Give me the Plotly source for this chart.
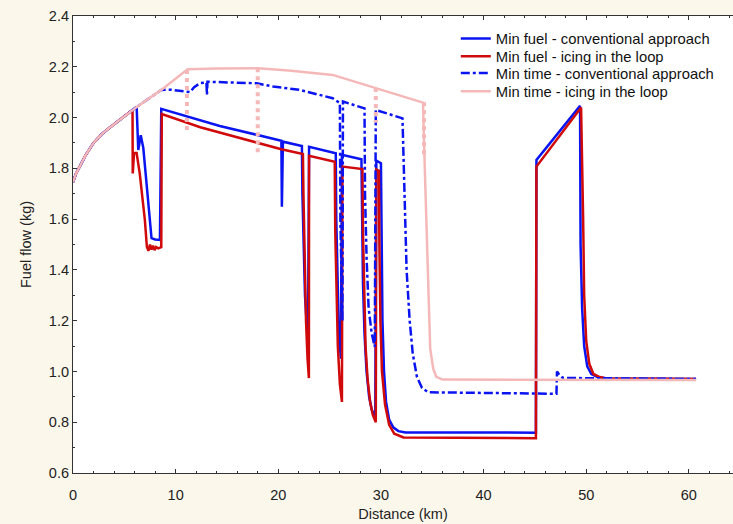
import plotly.graph_objects as go

# ---- data (Distance km, Fuel flow kg) ----
common_x = [0, 0.3, 0.7, 1.2, 2.0, 2.8, 3.5, 4.5, 5.5]
common_y = [1.746, 1.78, 1.81, 1.85, 1.90, 1.935, 1.958, 1.99, 2.02]

mf_conv_x = [6.2, 6.36, 6.6, 6.85, 7.17, 7.5, 7.65, 8.0, 8.47, 8.6, 14.3, 20.3, 20.35, 20.45, 22.3,
             22.35, 22.45, 22.6, 22.75, 22.9, 23.0, 25.6,
             25.65, 25.75, 25.9, 26.1, 26.2, 28.1,
             28.15, 28.25, 28.4, 28.6, 28.85, 29.1, 29.45, 29.55, 30.0,
             30.05, 30.15, 30.3, 30.5, 30.8, 31.2, 31.7, 32.4, 45.1,
             45.15, 49.4, 49.45, 49.6, 49.8, 50.1, 50.5, 51.1, 52.0, 60.7]
mf_conv_y = [2.043, 1.872, 1.93, 1.88, 1.728, 1.565, 1.525, 1.52, 1.518, 2.034, 1.967, 1.909, 1.649, 1.905, 1.888,
             1.7, 1.5, 1.3, 1.2, 1.15, 1.885, 1.859,
             1.6, 1.35, 1.15, 1.05, 1.853, 1.836,
             1.6, 1.35, 1.15, 1.0, 0.9, 0.85, 0.82, 1.83, 1.82,
             1.5, 1.2, 1.0, 0.88, 0.81, 0.78, 0.765, 0.76, 0.759,
             1.833, 2.046, 1.5, 1.25, 1.1, 1.02, 0.99, 0.978, 0.972, 0.97]

mf_ice_x = [5.8, 5.82, 5.95, 6.2, 6.5, 7.0, 7.2, 7.35, 7.5, 7.65, 7.8, 7.95, 8.1, 8.3, 8.6, 8.65,
            12.4, 20.3, 22.4,
            22.45, 22.55, 22.7, 22.85, 22.98, 23.0, 25.5,
            25.55, 25.65, 25.8, 26.0, 26.2, 26.25, 28.2,
            28.25, 28.35, 28.5, 28.7, 28.95, 29.2, 29.5, 29.55, 29.8,
            29.85, 29.95, 30.1, 30.4, 30.8, 31.3, 32.2, 45.1,
            45.15, 49.5, 49.7, 49.8, 50.0, 50.3, 50.7, 51.3, 52.0, 60.7]
mf_ice_y = [2.03, 1.78, 1.86, 1.86, 1.78, 1.597, 1.49, 1.475, 1.50, 1.48, 1.495, 1.478, 1.49, 1.485, 1.49, 2.014,
            1.962, 1.875, 1.856,
            1.7, 1.45, 1.2, 1.05, 0.974, 1.849, 1.826,
            1.55, 1.3, 1.1, 0.95, 0.88, 1.807, 1.797,
            1.55, 1.3, 1.1, 0.97, 0.88, 0.83, 0.80, 1.795, 1.79,
            1.5, 1.2, 1.0, 0.87, 0.79, 0.755, 0.74, 0.737,
            1.807, 2.04, 1.6, 1.3, 1.12, 1.03, 0.99, 0.978, 0.972, 0.97]

mt_conv_x = [6.5, 8.6, 9.5, 11.4, 11.8, 12.4, 13.0, 13.05, 13.1, 15.9, 17.9, 19.5, 22.1, 25.3, 26.0,
             26.05, 26.15, 26.25, 26.3, 28.4,
             28.45, 28.6, 28.8, 29.1, 29.4, 29.5, 32.1,
             32.25, 32.35, 32.5, 32.8, 33.1, 33.5, 34.0, 34.6, 47.1,
             47.15, 47.4, 47.7, 48.7, 60.7]
mt_conv_y = [2.05, 2.109, 2.11, 2.10, 2.12, 2.136, 2.138, 2.09, 2.141, 2.137, 2.135, 2.122, 2.109, 2.076, 2.057,
             1.6, 1.3, 1.2, 2.063, 2.036,
             1.7, 1.45, 1.25, 1.15, 1.097, 2.03, 1.997,
             1.8, 1.6, 1.4, 1.2, 1.07, 0.98, 0.935, 0.918, 0.912,
             1.0, 0.985, 0.975, 0.974, 0.97]

mt_ice_x = [6.5, 8.6, 11.07, 11.2, 14.0, 18.0, 21.0, 25.3, 29.5, 34.1,
            34.2, 34.4, 34.6, 34.8, 35.1, 35.4, 36.0, 60.7]
mt_ice_y = [2.05, 2.109, 2.187, 2.19, 2.193, 2.194, 2.185, 2.168, 2.116, 2.059,
            1.9, 1.6, 1.3, 1.09, 1.01, 0.979, 0.968, 0.966]

# chattering segments of the min-time icing trajectory
chat_x = [11.1, 11.1, None, 18.0, 18.0, None, 29.5, 29.5, None, 34.2, 34.2]
chat_y = [2.187, 1.95, None, 2.194, 1.86, None, 2.116, 1.98, None, 2.06, 1.85]

names = ["Min fuel - conventional approach", "Min fuel - icing in the loop",
         "Min time - conventional approach", "Min time - icing in the loop"]

x_ticks = [0, 10, 20, 30, 40, 50, 60]
y_ticks = [0.6, 0.8, 1.0, 1.2, 1.4, 1.6, 1.8, 2.0, 2.2, 2.4]

BLUE = "#0A14F0"
RED = "#D00A0A"
PINK = "#F5B8B8"
FONT = "Liberation Sans, Arial"
BG = "#FCF7EB"

fig = go.Figure()
series = [
    (common_x + mf_conv_x, common_y + mf_conv_y, dict(color=BLUE, width=2.5)),
    (common_x + mf_ice_x, common_y + mf_ice_y, dict(color=RED, width=2.5)),
    (common_x + mt_conv_x, common_y + mt_conv_y, dict(color=BLUE, width=2.5, dash="dashdot")),
    (common_x + mt_ice_x, common_y + mt_ice_y, dict(color=PINK, width=2.5)),
]
legend_ids = ["legend", "legend2", "legend3", "legend4"]
for (xs, ys, ln), nm, lg in zip(series, names, legend_ids):
    fig.add_trace(go.Scatter(x=xs, y=ys, mode="lines", name=nm, line=ln, legend=lg))
fig.add_trace(go.Scatter(x=chat_x, y=chat_y, mode="lines", showlegend=False,
                         line=dict(color=PINK, width=4, dash="dot")))

axis_common = dict(showline=True, linecolor="#333333", linewidth=1.2, ticks="inside",
                   tickcolor="#333333", showgrid=False, zeroline=False, automargin=False,
                   tickfont=dict(family=FONT, size=14.5, color="#222222"),
                   title_font=dict(family=FONT, size=14.5, color="#222222"))

leg_rows = [0.9497, 0.911, 0.8746, 0.8344]
leg_common = dict(x=0.58, xanchor="left", yanchor="middle", bgcolor="rgba(0,0,0,0)",
                  font=dict(family=FONT, size=14.8, color="#111111"), itemwidth=30)

fig.update_layout(
    width=733, height=524,
    margin=dict(l=73, r=0, t=16, b=51),
    paper_bgcolor=BG, plot_bgcolor="#FFFFFF",
    font=dict(family=FONT, size=14, color="#222222"),
    legend=dict(y=leg_rows[0], **leg_common),
    legend2=dict(y=leg_rows[1], **leg_common),
    legend3=dict(y=leg_rows[2], **leg_common),
    legend4=dict(y=leg_rows[3], **leg_common),
    xaxis=dict(range=[0, 64.3], tickvals=x_ticks, ticklen=4, mirror="ticks", ticklabelstandoff=8,
               minor=dict(dtick=2, ticks="inside", ticklen=2, tickcolor="#333333"),
               title=dict(text="Distance (km)", standoff=7), **axis_common),
    yaxis=dict(range=[0.6, 2.4], tickvals=y_ticks, tickformat=".1f", ticklen=4,
               minor=dict(dtick=0.1, ticks="inside", ticklen=2, tickcolor="#333333"),
               title=dict(text="Fuel flow (kg)", standoff=13), **axis_common),
)

fig.write_html("out.html", config={"displayModeBar": False},
               post_script="document.body.style.margin='0';document.body.style.background='" + BG + "';")
